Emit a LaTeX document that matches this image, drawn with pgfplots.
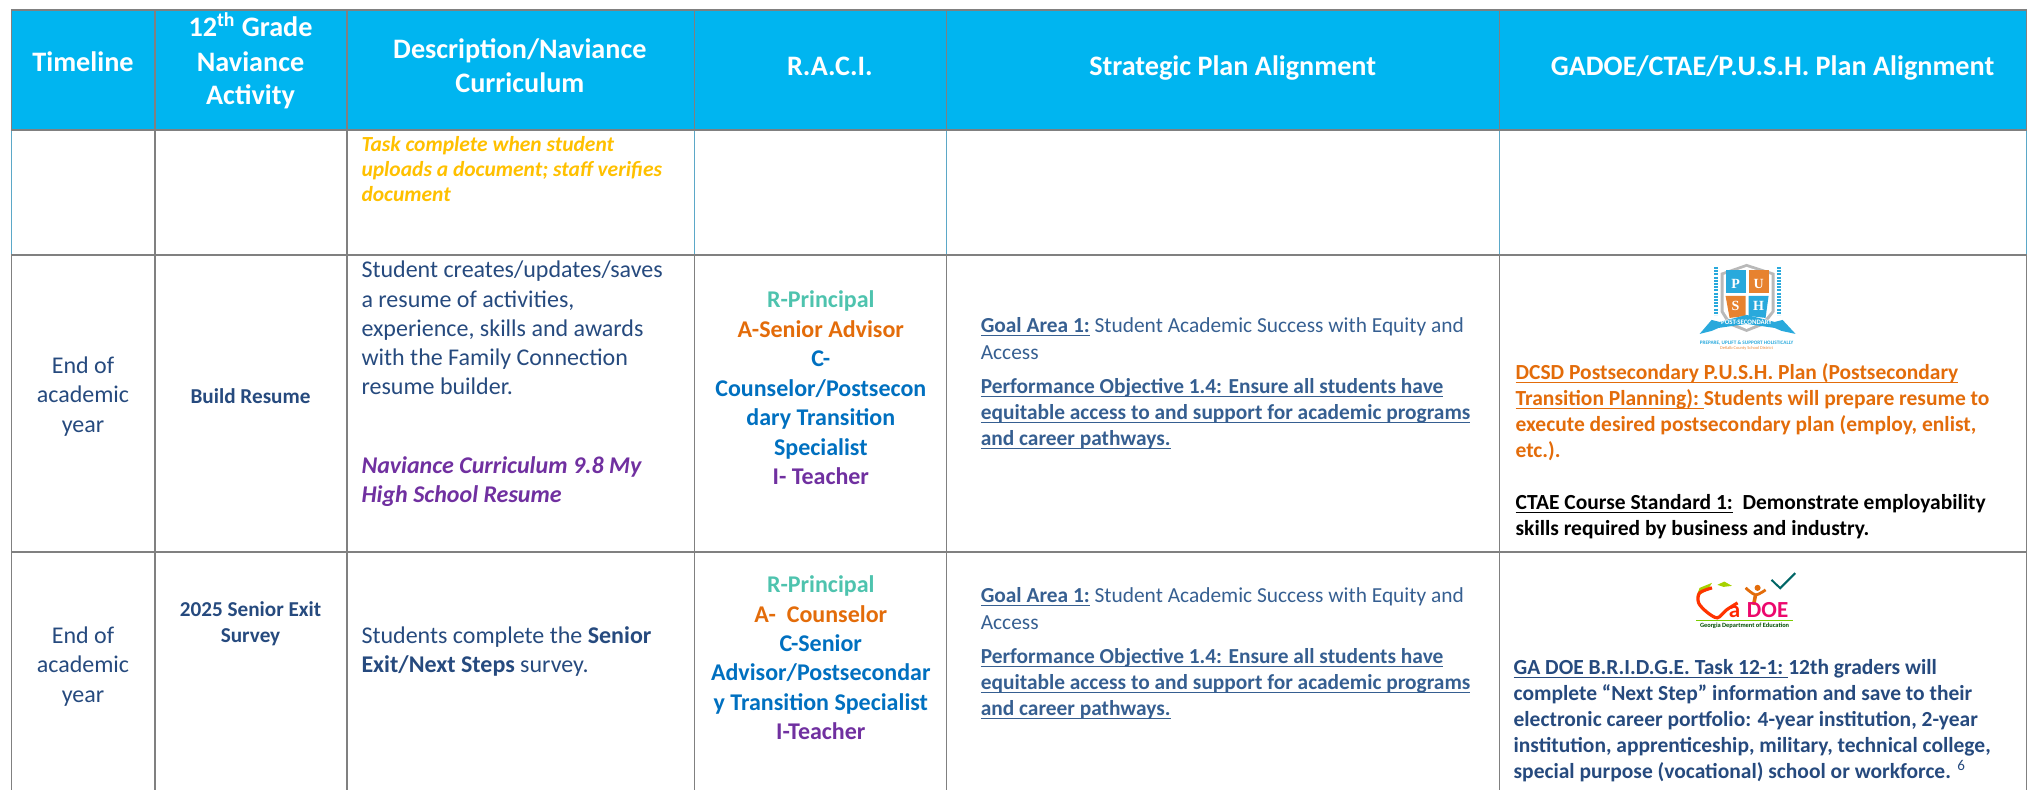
\documentclass[border=0pt]{standalone}
\usepackage{pgfplots}
\pgfplotsset{compat=1.18}
\usepackage{fontspec}
\setmainfont{Carlito}
\newfontfamily\logoserif{Liberation Serif}
\definecolor{hdr}{HTML}{00B5F0}
\definecolor{gl}{HTML}{808080}
\definecolor{tl}{HTML}{5BA8C8}
\definecolor{navy}{HTML}{264A7E}
\definecolor{mid}{HTML}{365F91}
\definecolor{gold}{HTML}{FFC000}
\definecolor{purp}{HTML}{7030A0}
\definecolor{teal1}{HTML}{4EC3AE}
\definecolor{orng}{HTML}{E36C0A}
\definecolor{blu}{HTML}{0070C0}
\definecolor{sky}{HTML}{29A9DC}
\newsavebox\ulbox
\newcommand\ul[1]{\sbox\ulbox{#1}\rlap{\usebox\ulbox}\rule[-1.6pt]{\wd\ulbox}{0.75pt}}
\newcommand\fs[1]{\fontsize{#1}{#1}\selectfont}
\tikzset{
 L/.style={anchor=base west,inner sep=0pt,outer sep=0pt},
 C/.style={anchor=base,inner sep=0pt,outer sep=0pt},
 H/.style={C,text=white,font=\fs{14.1}\bfseries},
 B/.style={C,text=navy,font=\fs{12}},
 D/.style={L,text=navy,font=\fs{12}},
 R/.style={C,font=\fs{12}\bfseries},
 S/.style={L,text=mid,font=\fs{10.7}},
 G/.style={L,font=\fs{10.75}\bfseries},
}
\begin{document}
\begin{tikzpicture}
\begin{axis}[
 scale only axis,width=1014pt,height=395pt,
 xmin=0,xmax=2028,ymin=0,ymax=790,y dir=reverse,
 hide axis,clip=false,
]
% header fill
\addplot[fill=hdr,draw=none] coordinates {(11.5,10)(2027,10)(2027,130)(11.5,130)} --cycle;
% vertical rules, header
\addplot[gl,line width=.75pt] coordinates {(11.5,10)(11.5,130)};
\addplot[gl,line width=.75pt] coordinates {(155,10)(155,130)};
\addplot[gl,line width=.75pt] coordinates {(347,10)(347,130)};
\addplot[gl,line width=.75pt] coordinates {(694.5,10)(694.5,130)};
\addplot[gl,line width=.75pt] coordinates {(946.5,10)(946.5,130)};
\addplot[gl,line width=.75pt] coordinates {(1500,10)(1500,130)};
\addplot[gl,line width=.75pt] coordinates {(2027,10)(2027,130)};
% vertical rules, row 1
\addplot[tl,line width=.75pt] coordinates {(11.5,130)(11.5,255)};
\addplot[gl,line width=.75pt] coordinates {(155,130)(155,255)};
\addplot[gl,line width=.75pt] coordinates {(347,130)(347,255)};
\addplot[tl,line width=.75pt] coordinates {(694.5,130)(694.5,255)};
\addplot[tl,line width=.75pt] coordinates {(946.5,130)(946.5,255)};
\addplot[tl,line width=.75pt] coordinates {(1500,130)(1500,255)};
\addplot[tl,line width=.75pt] coordinates {(2027,130)(2027,255)};
% vertical rules, rows 2-3
\addplot[gl,line width=.75pt] coordinates {(11.5,255)(11.5,790)};
\addplot[gl,line width=.75pt] coordinates {(155,255)(155,790)};
\addplot[gl,line width=.75pt] coordinates {(347,255)(347,790)};
\addplot[gl,line width=.75pt] coordinates {(694.5,255)(694.5,790)};
\addplot[gl,line width=.75pt] coordinates {(946.5,255)(946.5,790)};
\addplot[gl,line width=.75pt] coordinates {(1500,255)(1500,790)};
\addplot[gl,line width=.75pt] coordinates {(2027,255)(2027,790)};
% horizontal rules
\addplot[gl,line width=1pt] coordinates {(11,10)(2027.5,10)};
\addplot[gl,line width=1pt] coordinates {(11,130)(2027.5,130)};
\addplot[gl,line width=1pt] coordinates {(11,255)(2027.5,255)};
\addplot[gl,line width=1pt] coordinates {(11,552)(2027.5,552)};

% header text
\node[H] at (83,72) {Timeline};
\node[H] at (250.6,37) {12\textsuperscript{th} Grade};
\node[H] at (250.6,72) {Naviance};
\node[H] at (250.6,105) {Activity};
\node[H] at (520,59) {Description/Naviance};
\node[H] at (520,93) {Curriculum};
\node[H] at (830,76) {R.A.C.I.};
\node[H] at (1233,76) {Strategic Plan Alignment};
\node[H] at (1773,76) {GADOE/CTAE/P.U.S.H. Plan Alignment};

% row 1
\node[L,text=gold,font=\fs{10.75}\bfseries\itshape] at (361.6,152) {Task complete when student};
\node[L,text=gold,font=\fs{10.75}\bfseries\itshape] at (361.6,177) {uploads a document; staff verifies};
\node[L,text=gold,font=\fs{10.75}\bfseries\itshape] at (361.6,202) {document};

% row 2
\node[B] at (83,374) {End of};
\node[B] at (83,403) {academic};
\node[B] at (83,433) {year};
\node[C,text=navy,font=\fs{10.6}\bfseries] at (250.6,404) {Build Resume};
\node[D] at (361.6,278) {Student creates/updates/saves};
\node[D] at (361.6,308) {a resume of activities,};
\node[D] at (361.6,337) {experience, skills and awards};
\node[D] at (361.6,366) {with the Family Connection};
\node[D] at (361.6,395) {resume builder.};
\node[L,text=purp,font=\fs{12}\bfseries\itshape] at (361.6,474) {Naviance Curriculum 9.8 My};
\node[L,text=purp,font=\fs{12}\bfseries\itshape] at (361.6,503) {High School Resume};
\node[R,text=teal1] at (821,308) {R-Principal};
\node[R,text=orng] at (821,338) {A-Senior Advisor};
\node[R,text=blu] at (821,367) {C-};
\node[R,text=blu] at (821,397) {Counselor/Postsecon};
\node[R,text=blu] at (821,426) {dary Transition};
\node[R,text=blu] at (821,456) {Specialist};
\node[R,text=purp] at (821,485) {I- Teacher};
\node[S] at (981,333) {\ul{\textbf{Goal Area 1:}} Student Academic Success with Equity and};
\node[S] at (981,360) {Access};
\node[S] at (981,394) {\ul{\textbf{Performance Objective 1.4: Ensure all students have}}};
\node[S] at (981,420) {\ul{\textbf{equitable access to and support for academic programs}}};
\node[S] at (981,446) {\ul{\textbf{and career pathways.}}};
\node[G,text=orng] at (1516,380) {\ul{DCSD Postsecondary P.U.S.H. Plan (Postsecondary}};
\node[G,text=orng] at (1516,406) {\ul{Transition Planning):\ }Students will prepare resume to};
\node[G,text=orng] at (1516,432) {execute desired postsecondary plan (employ, enlist,};
\node[G,text=orng] at (1516,458) {etc.).};
\node[G,text=black] at (1516,510) {\ul{CTAE Course Standard 1:}\ \ Demonstrate employability};
\node[G,text=black] at (1516,536) {skills required by business and industry.};

% row 3
\node[B] at (83,644) {End of};
\node[B] at (83,673) {academic};
\node[B] at (83,703) {year};
\node[C,text=navy,font=\fs{10.6}\bfseries] at (250.6,617) {2025 Senior Exit};
\node[C,text=navy,font=\fs{10.6}\bfseries] at (250.6,643) {Survey};
\node[D] at (361.6,644) {Students complete the \textbf{Senior}};
\node[D] at (361.6,673) {\textbf{Exit/Next Steps} survey.};
\node[R,text=teal1] at (821,593) {R-Principal};
\node[R,text=orng] at (821,623) {A-\ \ Counselor};
\node[R,text=blu] at (821,652) {C-Senior};
\node[R,text=blu] at (821,681) {Advisor/Postsecondar};
\node[R,text=blu] at (821,711) {y Transition Specialist};
\node[R,text=purp] at (821,740) {I-Teacher};
\node[S] at (981,603) {\ul{\textbf{Goal Area 1:}} Student Academic Success with Equity and};
\node[S] at (981,630) {Access};
\node[S] at (981,664) {\ul{\textbf{Performance Objective 1.4: Ensure all students have}}};
\node[S] at (981,690) {\ul{\textbf{equitable access to and support for academic programs}}};
\node[S] at (981,716) {\ul{\textbf{and career pathways.}}};
\node[G,text=navy] at (1514,675) {\ul{GA DOE B.R.I.D.G.E. Task 12-1:\ }12th graders will};
\node[G,text=navy] at (1514,701) {complete “Next Step” information and save to their};
\node[G,text=navy] at (1514,727) {electronic career portfolio: 4-year institution, 2-year};
\node[G,text=navy] at (1514,753) {institution, apprenticeship, military, technical college,};
\node[G,text=navy] at (1514,779) {special purpose (vocational) school or workforce. \textsuperscript{\mdseries 6}};

% P.U.S.H. logo
\addplot[fill=gray!55,draw=none] coordinates {(1721,273)(1747,264)(1775,273)(1775,312)(1765,325)(1747,332)(1729,325)(1721,312)} --cycle;
\addplot[fill=white,draw=none] coordinates {(1724,275)(1747,267)(1772,275)(1772,311)(1763,322)(1747,329)(1731,322)(1724,311)} --cycle;
\addplot[fill=sky,draw=none] coordinates {(1726,270)(1746,270)(1746,293)(1726,293)} --cycle;
\addplot[fill=orng!85,draw=none] coordinates {(1749,270)(1769,270)(1769,293)(1749,293)} --cycle;
\addplot[fill=orng!85,draw=none] coordinates {(1726,296)(1746,296)(1746,316)(1730,318)} --cycle;
\addplot[fill=sky,draw=none] coordinates {(1749,296)(1769,296)(1766,318)(1749,316)} --cycle;
\addplot[sky,line width=2pt,dash pattern=on 1pt off .6pt] coordinates {(1716,267)(1716,315)};
\addplot[sky,line width=2pt,dash pattern=on 1pt off .6pt] coordinates {(1779.5,267)(1779.5,315)};
\addplot[fill=sky,draw=none] coordinates {(1700,334)(1712,320)(1720,322)(1747,315)(1775,322)(1783,320)(1796,334)(1782,331)(1775,328)(1747,324)(1719,328)(1712,331)} --cycle;
\node[anchor=center,inner sep=0pt,text=white,font=\fs{7}\logoserif\bfseries] at (1736,284) {P};
\node[anchor=center,inner sep=0pt,text=white,font=\fs{7}\logoserif\bfseries] at (1759,284) {U};
\node[anchor=center,inner sep=0pt,text=white,font=\fs{7}\logoserif\bfseries] at (1736,306) {S};
\node[anchor=center,inner sep=0pt,text=white,font=\fs{7}\logoserif\bfseries] at (1759,306) {H};
\node[anchor=center,inner sep=0pt,text=white,font=\fs{3.4}\bfseries] at (1747,322) {POST-SECONDARY};
\node[anchor=center,inner sep=0pt,text=sky,font=\fs{2.6}\bfseries] at (1747,343) {PREPARE, UPLIFT \& SUPPORT HOLISTICALLY};
\node[anchor=center,inner sep=0pt,text=orng!80,font=\fs{2.2}] at (1747,348.5) {DeKalb County School District};

% GaDOE logo
\addplot[fill=green!50!orange!70!yellow,draw=none] coordinates {(1696.7,597)(1700,588)(1712.4,583)(1708,590)} --cycle;
\addplot[fill=green!50!orange!70!yellow,draw=none] coordinates {(1717.7,585)(1724.7,581.7)(1732.4,586)(1724,587)} --cycle;
\addplot[smooth,red!60!orange,line width=1.6pt] coordinates {(1712.4,588)(1700,593)(1699,603)(1707,612)(1717.7,618)(1727,610)(1738,603)};
\addplot[smooth,orng,line width=1.4pt] coordinates {(1746,588)(1756,595)(1766,590)};
\addplot[orng,line width=1.8pt] coordinates {(1756,595)(1754,605)};
\addplot[orng,only marks,mark=*,mark size=1.3pt] coordinates {(1758,588)};
\addplot[green!40!yellow!80!black,line width=.4pt] coordinates {(1696.7,621)(1793,621)};
\addplot[teal!80!black,line width=1pt] coordinates {(1771.9,580)(1780.6,588.3)(1795.6,573.3)};
\node[anchor=base west,inner sep=0pt,text=red!70!orange,font=\fs{11.5}\bfseries] at (1729,618) {a};
\node[anchor=base west,inner sep=0pt,text=magenta!70!red,font=\fs{11.5}\bfseries] at (1747,618) {DOE};
\node[anchor=base,inner sep=0pt,text=green!30!black,font=\fs{3.2}\bfseries] at (1745,628) {Georgia Department of Education};
\coordinate (bbA) at (0,0);
\coordinate (bbB) at (2028,790);
\end{axis}
\path[use as bounding box] (bbA) rectangle (bbB);
\end{tikzpicture}
\end{document}
